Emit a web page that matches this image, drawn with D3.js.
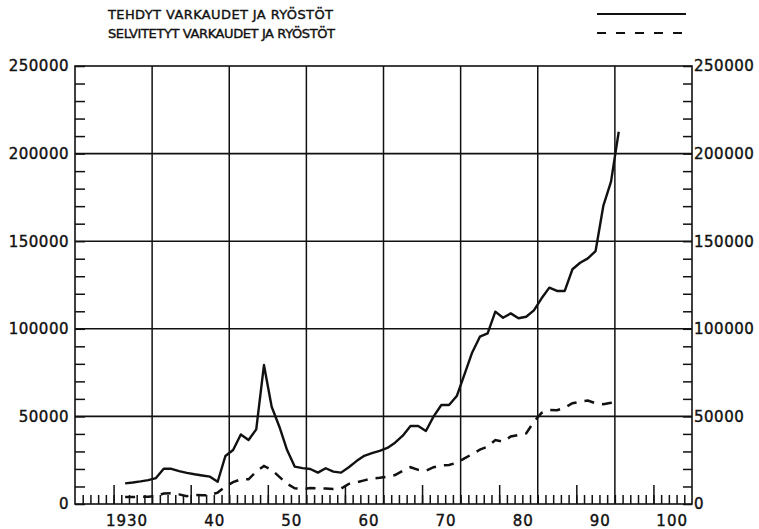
<!DOCTYPE html>
<meta charset="utf-8">
<head>
    <title>Varkaudet ja ryöstöt</title>
    <style>
        body { margin: 0; background: #fff; }
        text { font-family: 'DejaVu Sans', sans-serif; fill: #111; stroke: #111; stroke-width: 0.4px; }
    </style>
</head>
<body>
    <script src="https://d3js.org/d3.v7.min.js"></script>
    <div id="chart"></div>
    <script>

        // years 1926-1990, plotted at mid-year
        var years = [1926, 1927, 1928, 1929, 1930, 1931, 1932, 1933, 1934, 1935,
                     1936, 1937, 1938, 1939, 1940, 1941, 1942, 1943, 1944, 1945,
                     1946, 1947, 1948, 1949, 1950, 1951, 1952, 1953, 1954, 1955,
                     1956, 1957, 1958, 1959, 1960, 1961, 1962, 1963, 1964, 1965,
                     1966, 1967, 1968, 1969, 1970, 1971, 1972, 1973, 1974, 1975,
                     1976, 1977, 1978, 1979, 1980, 1981, 1982, 1983, 1984, 1985,
                     1986, 1987, 1988, 1989, 1990];

        // tehdyt varkaudet ja ryöstöt
        var committed = [11800, 12300, 12900, 13600, 14800, 20100, 20100, 18800, 17800, 17000,
                         16300, 15600, 12700, 27400, 30800, 39700, 36500, 42600, 79300, 55500,
                         44100, 30800, 21300, 20500, 20000, 17900, 20400, 18500, 17900, 21000,
                         24500, 27500, 29000, 30300, 32000, 35000, 39000, 44500, 44500, 41700,
                         50000, 56500, 56500, 61600, 74000, 86500, 95500, 97400, 109800, 106300,
                         108800, 106000, 106900, 110500, 117400, 123500, 121600, 121600, 134000, 137700,
                         140200, 144400, 170100, 184000, 212500];

        // selvitetyt varkaudet ja ryöstöt
        var solved = [4000, 4000, 4200, 4200, 4500, 6000, 6100, 5500, 4500, 5200,
                      5000, 5100, 6500, 9900, 12500, 14100, 14100, 18500, 21700, 19500,
                      15500, 11500, 9000, 8500, 9100, 9000, 8800, 8500, 8800, 11500,
                      12300, 13500, 14500, 15000, 15600, 16500, 19000, 21000, 19500, 19000,
                      21000, 22000, 22300, 23500, 26000, 28500, 31000, 32700, 36500, 35600,
                      38500, 39400, 40300, 47000, 52000, 53700, 53500, 55000, 57500, 58400,
                      59000, 57500, 57000, 57800, 59800];

        var legendLabels = ['TEHDYT VARKAUDET JA RYÖSTÖT', 'SELVITETYT VARKAUDET JA RYÖSTÖT'];
        var xTickYears = [1930, 1940, 1950, 1960, 1970, 1980, 1990, 2000];
        var xTickLabels = ['1930', '40', '50', '60', '70', '80', '90', '100'];
        var yTickValues = [0, 50000, 100000, 150000, 200000, 250000];

        var width = 759;
        var height = 529;
        var ink = '#111';

        var x = d3.scaleLinear().domain([1920, 2000]).range([75, 692]);
        var y = d3.scaleLinear().domain([0, 250000]).range([504, 66]);

        var svg = d3.select('#chart')
          .append('svg')
          .attr('width', width)
          .attr('height', height);

        // grid
        svg.append('g')
          .selectAll('line')
          .data(d3.range(1930, 2000, 10))
          .enter()
          .append('line')
          .attr('x1', function(d) { return x(d); })
          .attr('x2', function(d) { return x(d); })
          .attr('y1', y(0))
          .attr('y2', y(250000))
          .attr('stroke', ink)
          .attr('stroke-width', 1.5);

        svg.append('g')
          .selectAll('line')
          .data([50000, 100000, 150000, 200000])
          .enter()
          .append('line')
          .attr('x1', x(1920))
          .attr('x2', x(2000))
          .attr('y1', function(d) { return y(d); })
          .attr('y2', function(d) { return y(d); })
          .attr('stroke', ink)
          .attr('stroke-width', 1.6);

        // frame
        svg.append('rect')
          .attr('x', x(1920))
          .attr('y', y(250000))
          .attr('width', x(2000) - x(1920))
          .attr('height', y(0) - y(250000))
          .attr('fill', 'none')
          .attr('stroke', ink)
          .attr('stroke-width', 1.6);

        function styleAxis(g) {
          g.select('.domain').remove();
          g.selectAll('.tick line').attr('stroke', ink).attr('stroke-width', 1.5);
          g.selectAll('.tick text')
            .style('font-size', '15px')
            .style('letter-spacing', '0.5px')
            .attr('fill', ink);
        }

        // y minor ticks, inward on both sides
        svg.append('g')
          .attr('transform', 'translate(' + x(1920) + ',0)')
          .call(d3.axisRight(y).tickValues(d3.range(0, 250001, 10000)).tickSize(10).tickFormat(''))
          .call(styleAxis);

        svg.append('g')
          .attr('transform', 'translate(' + x(2000) + ',0)')
          .call(d3.axisLeft(y).tickValues(d3.range(0, 250001, 10000)).tickSize(9).tickFormat(''))
          .call(styleAxis);

        // y labels
        svg.append('g')
          .attr('transform', 'translate(' + (x(1920) - 6) + ',0)')
          .call(d3.axisLeft(y).tickValues(yTickValues).tickSize(0).tickPadding(0).tickFormat(d3.format('d')))
          .call(styleAxis);

        svg.append('g')
          .attr('transform', 'translate(' + (x(2000) + 2) + ',0)')
          .call(d3.axisRight(y).tickValues(yTickValues).tickSize(0).tickPadding(0).tickFormat(d3.format('d')))
          .call(styleAxis);

        // x ticks: every year, taller at the mid-decade
        svg.append('g')
          .attr('transform', 'translate(0,' + y(0) + ')')
          .call(d3.axisTop(x).tickValues(d3.range(1921, 2000)).tickSize(9).tickFormat(''))
          .call(styleAxis);

        svg.append('g')
          .attr('transform', 'translate(0,' + y(0) + ')')
          .call(d3.axisTop(x).tickValues(d3.range(1925, 2000, 10)).tickSize(19).tickFormat(''))
          .call(styleAxis);

        // x labels, right-aligned to the decade lines
        svg.append('g')
          .selectAll('text')
          .data(xTickYears)
          .enter()
          .append('text')
          .attr('x', function(d) { return x(d) - 4; })
          .attr('y', 526)
          .attr('text-anchor', 'end')
          .style('font-size', '15px')
          .style('letter-spacing', '1px')
          .text(function(d, i) { return xTickLabels[i]; });

        // series
        var line = d3.line()
          .x(function(d) { return x(d[0] + 0.5); })
          .y(function(d) { return y(d[1]); });

        svg.append('path')
          .datum(d3.zip(years, committed))
          .attr('d', line)
          .attr('fill', 'none')
          .attr('stroke', ink)
          .attr('stroke-width', 2.4)
          .attr('stroke-linejoin', 'round');

        svg.append('path')
          .datum(d3.zip(years, solved))
          .attr('d', line)
          .attr('fill', 'none')
          .attr('stroke', ink)
          .attr('stroke-width', 2.5)
          .attr('stroke-dasharray', '10,8');

        // legend
        var legend = svg.append('g');
        legend.selectAll('text')
          .data(legendLabels)
          .enter()
          .append('text')
          .attr('x', 108)
          .attr('y', function(d, i) { return 19 + i * 19; })
          .attr('textLength', function(d, i) { return i === 0 ? 225 : 227; })
          .attr('lengthAdjust', 'spacing')
          .style('font-size', '13px')
          .text(function(d) { return d; });

        legend.selectAll('line')
          .data(legendLabels)
          .enter()
          .append('line')
          .attr('x1', 597)
          .attr('x2', 686)
          .attr('y1', function(d, i) { return 14 + i * 19; })
          .attr('y2', function(d, i) { return 14 + i * 19; })
          .attr('stroke', ink)
          .attr('stroke-width', 2)
          .attr('stroke-dasharray', function(d, i) { return i === 0 ? null : '9,10'; });

  </script>
</body>
